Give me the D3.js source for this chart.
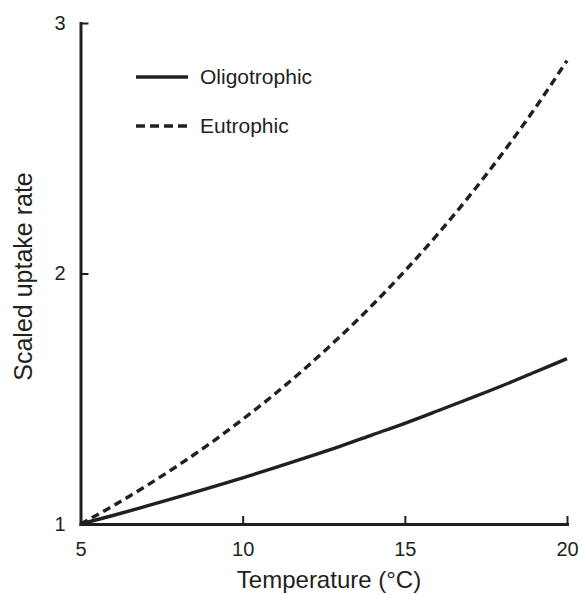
<!DOCTYPE html>
<html>
<head>
<meta charset="utf-8">
<script src="https://cdnjs.cloudflare.com/ajax/libs/d3/7.8.5/d3.min.js"></script>
<style>
  body { margin: 0; background: #fff; }
  svg { font-family: 'Liberation Sans', Arial, Helvetica, sans-serif; }
</style>
</head>
<body>
<script>
// values
const temps = [5, 6, 7, 8, 9, 10, 11, 12, 13, 14, 15, 16, 17, 18, 19, 20];
const oligotrophic = [1.000, 1.034, 1.070, 1.107, 1.145, 1.184, 1.225, 1.267, 1.310, 1.356, 1.402, 1.451, 1.501, 1.552, 1.606, 1.660];
const eutrophic = [1.000, 1.072, 1.150, 1.233, 1.322, 1.418, 1.520, 1.630, 1.748, 1.874, 2.010, 2.155, 2.311, 2.478, 2.657, 2.850];
const xTicks = [5, 10, 15, 20];
const yTicks = [1, 2, 3];
const seriesNames = ['Oligotrophic', 'Eutrophic'];

const ink = '#231f20';
const W = 579, H = 595;

const x = d3.scaleLinear().domain([5, 20]).range([80.5, 567]);
const y = d3.scaleLinear().domain([1, 3]).range([524, 23]);

const svg = d3.select('body').append('svg')
    .attr('width', W)
    .attr('height', H);

const line = d3.line()
    .x((d) => x(d.t))
    .y((d) => y(d.v))
    .curve(d3.curveMonotoneX);

const series = [
    {name: seriesNames[0], values: oligotrophic, dash: null},
    {name: seriesNames[1], values: eutrophic, dash: '8,5'}
];

svg.append('g').selectAll('path')
    .data(series)
    .enter()
    .append('path')
    .attr('d', (s) => line(temps.map((t, i) => ({t: t, v: s.values[i]}))))
    .attr('fill', 'none')
    .attr('stroke', ink)
    .attr('stroke-width', 3.4)
    .attr('stroke-dasharray', (s) => s.dash);

// axes
const xAxis = d3.axisBottom(x)
    .tickValues(xTicks)
    .tickFormat(d3.format('d'))
    .tickSizeInner(-8)
    .tickSizeOuter(0)
    .tickPadding(18);

const yAxis = d3.axisLeft(y)
    .tickValues(yTicks)
    .tickFormat(d3.format('d'))
    .tickSizeInner(-8)
    .tickSizeOuter(0)
    .tickPadding(15);

const gx = svg.append('g')
    .attr('transform', 'translate(0,' + y(1) + ')')
    .call(xAxis);

const gy = svg.append('g')
    .attr('transform', 'translate(' + x(5) + ',0)')
    .call(yAxis);

[gx, gy].forEach((g) => {
    g.attr('font-family', null);
    g.select('.domain').attr('stroke', ink).attr('stroke-width', 3).attr('stroke-linecap', 'square');
    g.selectAll('.tick line').attr('stroke', ink).attr('stroke-width', 2);
    g.selectAll('.tick text').attr('fill', ink).attr('font-size', 20);
});

// axis titles
svg.append('text')
    .attr('x', 329)
    .attr('y', 588)
    .attr('text-anchor', 'middle')
    .attr('font-size', 24)
    .attr('fill', ink)
    .text('Temperature (°C)');

svg.append('text')
    .attr('transform', 'translate(32,276.5) rotate(-90)')
    .attr('text-anchor', 'middle')
    .attr('font-size', 25)
    .attr('fill', ink)
    .text('Scaled uptake rate');

// legend
const legend = svg.append('g')
    .selectAll('g')
    .data(series)
    .enter()
    .append('g')
    .attr('transform', (s, i) => 'translate(136,' + (77 + i * 49) + ')');

legend.append('line')
    .attr('x1', 0)
    .attr('x2', 52)
    .attr('stroke', ink)
    .attr('stroke-width', 3.4)
    .attr('stroke-dasharray', (s) => s.dash ? '9,5' : null);

legend.append('text')
    .attr('x', 64)
    .attr('y', 7)
    .attr('font-size', 21)
    .attr('fill', ink)
    .text((s) => s.name);
</script>
</body>
</html>
